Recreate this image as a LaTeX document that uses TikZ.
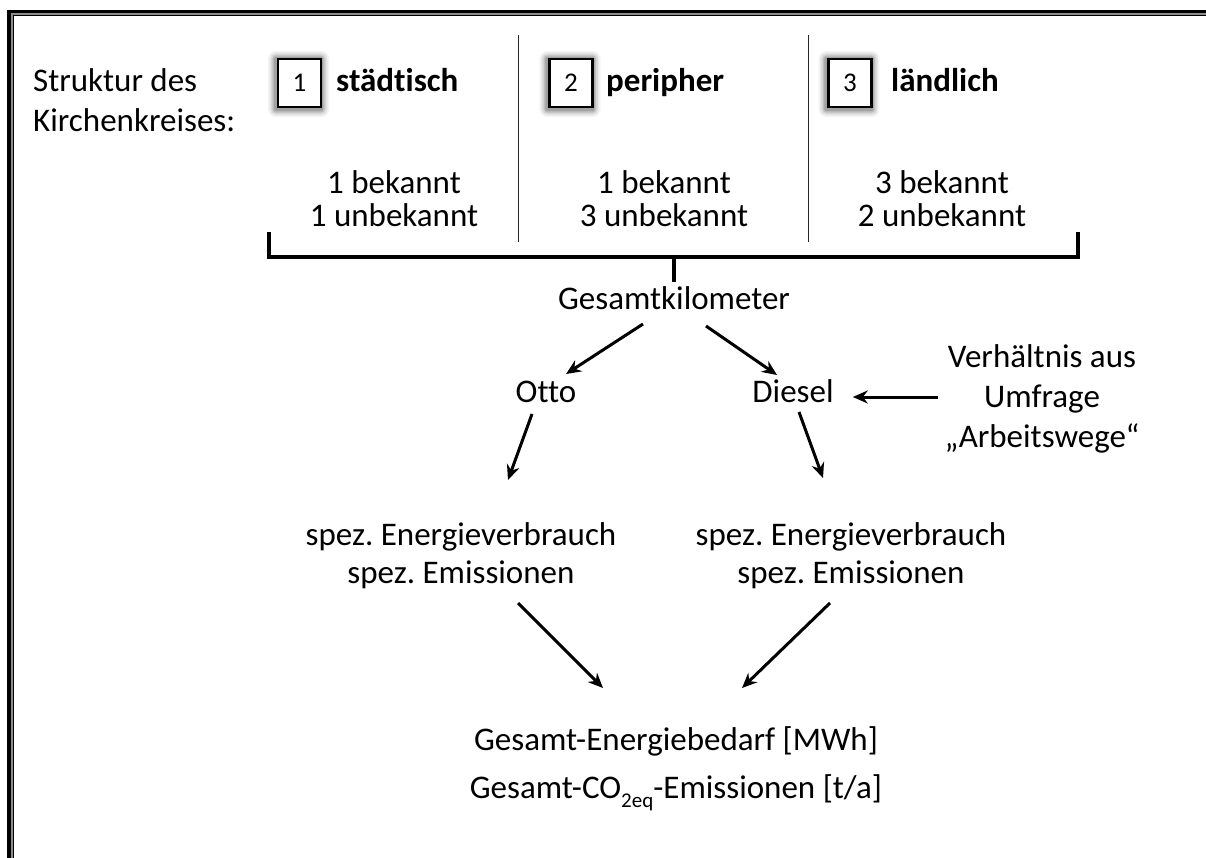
\documentclass[tikz,border=0pt]{standalone}
\usepackage{fontspec}
\setmainfont{Carlito}[Ligatures=NoCommon]
\usetikzlibrary{arrows.meta,calc,backgrounds}
\frenchspacing
\begin{document}
\begin{tikzpicture}[x=1pt,y=-1pt,
  txt/.style={inner sep=0pt, anchor=base, font=\fontsize{33}{40}\selectfont},
  lefttxt/.style={inner sep=0pt, anchor=base west, font=\fontsize{33}{40}\selectfont},
  hd/.style={inner sep=0pt, anchor=base west, font=\fontsize{33}{40}\selectfont\bfseries},
  numbox/.style={draw, line width=2.2pt, minimum width=43pt, minimum height=48pt, inner sep=0pt, fill=white, font=\fontsize{27}{30}\selectfont},
  arr/.style={line width=3pt, -{Stealth[length=15pt,width=13pt,inset=5pt]}},
  bracketline/.style={line width=3.5pt},
  divider/.style={line width=1pt, black!85},
]
\useasboundingbox (0,0) rectangle (1206,858);
\clip (0,0) rectangle (1206,858);
% frame
\draw[line width=3.5pt] (9.2,11.7) rectangle (1400,1100);
\draw[line width=1.5pt, black!45] (11.9,14.0) rectangle (1400,1100);
\draw[line width=1.3pt] (13.4,15.4) rectangle (1400,1100);

% left label
\node[lefttxt] (s1) at (33,92) {Struktur des};
\node[lefttxt] (s2) at (33,132) {Kirchenkreises:};

% numbered boxes and headings
\node[numbox] (b1) at (299.5,83) {1};
\node[numbox] (b2) at (571,83) {2};
\node[numbox] (b3) at (850,83) {3};
\begin{scope}[on background layer]
\foreach \b in {b1,b2,b3}{
  \foreach \g/\o in {8/0.04,6.5/0.06,5/0.08,3.5/0.11,2/0.15}{
    \fill[black,opacity=\o,rounded corners=\g pt]
      ($(\b.south west)+(-\g-1,\g+1)$) rectangle ($(\b.north east)+(\g-1,-\g+1)$);
  }
}
\end{scope}
\node[hd] (h1) at (336,92) {städtisch};
\node[hd] (h2) at (606,92) {peripher};
\node[hd] (h3) at (891,92) {ländlich};

% dividers
\draw[divider] (518,35) -- (518,242);
\draw[divider] (808,35) -- (808,242);

% counts
\node[txt] (c1a) at (394,194) {1 bekannt};
\node[txt] (c1b) at (394,227) {1 unbekannt};
\node[txt] (c2a) at (664,194) {1 bekannt};
\node[txt] (c2b) at (664,227) {3 unbekannt};
\node[txt] (c3a) at (942,194) {3 bekannt};
\node[txt] (c3b) at (942,227) {2 unbekannt};

% bracket
\coordinate (bl) at (269,232);
\coordinate (br) at (1078,232);
\coordinate (bm) at (674,257);
\draw[bracketline] (bl) |- (bm) -| (br);
\node[txt] (gk) at (674,309) {Gesamtkilometer};
\draw[bracketline] (bm) -- ($(gk.base)+(0,-27)$);

% fuel types
\node[txt] (otto) at (546,402) {Otto};
\node[txt] (diesel) at (793,402) {Diesel};
\draw[arr] ($(gk.base)+(-31,15)$) -- ($(otto.base)+(20,-28)$);
\draw[arr] ($(gk.base)+(32,17)$) -- ($(diesel.base)+(-16,-27)$);

% survey
\node[txt] (v1) at (1042,367) {Verhältnis aus};
\node[txt] (v2) at (1042,407) {Umfrage};
\node[txt] (v3) at (1042,447) {„Arbeitswege“};
\draw[arr] ($(v2.base)+(-104,-10)$) -- ($(diesel.base east)+(19,-5)$);

% specific values
\node[txt] (sl1) at (461,545) {spez. Energieverbrauch};
\node[txt] (sl2) at (461,583) {spez. Emissionen};
\node[txt] (sr1) at (851,545) {spez. Energieverbrauch};
\node[txt] (sr2) at (851,583) {spez. Emissionen};
\draw[arr] ($(otto.base)+(-14,12)$) -- ($(sl1.base)+(47,-65)$);
\draw[arr] ($(diesel.base)+(6,10)$) -- ($(sr1.base)+(-28,-67)$);

% totals
\node[txt] (t1) at (676,750) {Gesamt-Energiebedarf [MWh]};
\node[txt] (t2) at (676,798) {Gesamt-CO\raisebox{-9pt}{\fontsize{21}{21}\selectfont 2eq}-Emissionen [t/a]};
\draw[arr] ($(sl2.base)+(57,20)$) -- ($(t1.base)+(-73,-62)$);
\draw[arr] ($(sr2.base)+(-21,20)$) -- ($(t1.base)+(66,-62)$);
\end{tikzpicture}
\end{document}
